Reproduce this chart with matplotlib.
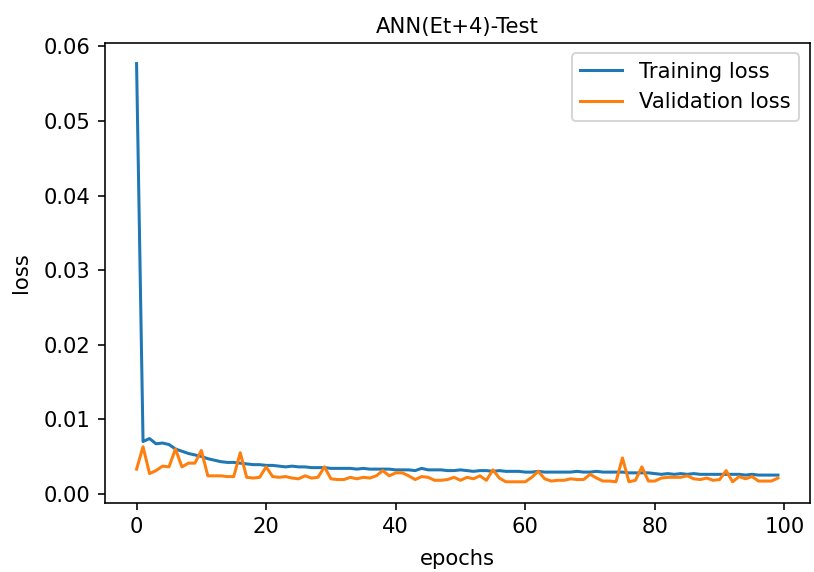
import matplotlib
matplotlib.use("Agg")
import matplotlib.pyplot as plt

epochs = list(range(100))

training_loss = [
    0.0577, 0.0070, 0.0074, 0.0067, 0.0068, 0.0066, 0.0060, 0.0057, 0.0054, 0.0052,
    0.0050, 0.0047, 0.0045, 0.0043, 0.0042, 0.0042, 0.0041, 0.0040, 0.0039, 0.0039,
    0.0038, 0.0038, 0.0037, 0.0036, 0.0037, 0.0036, 0.0036, 0.0035, 0.0035, 0.0035,
    0.0034, 0.0034, 0.0034, 0.0034, 0.0033, 0.0034, 0.0033, 0.0033, 0.0033, 0.0033,
    0.0032, 0.0032, 0.0032, 0.0031, 0.0034, 0.0032, 0.0032, 0.0032, 0.0031, 0.0031,
    0.0032, 0.0031, 0.0030, 0.0031, 0.0031, 0.0030, 0.0031, 0.0030, 0.0030, 0.0030,
    0.0029, 0.0029, 0.0030, 0.0029, 0.0029, 0.0029, 0.0029, 0.0029, 0.0030, 0.0029,
    0.0029, 0.0030, 0.0029, 0.0029, 0.0029, 0.0029, 0.0028, 0.0028, 0.0028, 0.0028,
    0.0027, 0.0026, 0.0027, 0.0026, 0.0027, 0.0026, 0.0027, 0.0026, 0.0026, 0.0026,
    0.0026, 0.0026, 0.0026, 0.0026, 0.0025, 0.0026, 0.0025, 0.0025, 0.0025, 0.0025,
]

validation_loss = [
    0.0033, 0.0063, 0.0027, 0.0031, 0.0037, 0.0036, 0.0060, 0.0036, 0.0041, 0.0041,
    0.0058, 0.0024, 0.0024, 0.0024, 0.0023, 0.0023, 0.0055, 0.0022, 0.0021, 0.0022,
    0.0036, 0.0023, 0.0022, 0.0023, 0.0021, 0.0020, 0.0024, 0.0021, 0.0022, 0.0036,
    0.0020, 0.0019, 0.0019, 0.0022, 0.0020, 0.0022, 0.0021, 0.0024, 0.0031, 0.0024,
    0.0028, 0.0028, 0.0024, 0.0019, 0.0023, 0.0022, 0.0018, 0.0018, 0.0019, 0.0022,
    0.0018, 0.0022, 0.0020, 0.0024, 0.0018, 0.0032, 0.0021, 0.0016, 0.0016, 0.0016,
    0.0016, 0.0022, 0.0030, 0.0020, 0.0017, 0.0018, 0.0018, 0.0020, 0.0019, 0.0019,
    0.0026, 0.0021, 0.0017, 0.0017, 0.0016, 0.0048, 0.0016, 0.0018, 0.0036, 0.0017,
    0.0017, 0.0021, 0.0022, 0.0022, 0.0022, 0.0024, 0.0020, 0.0019, 0.0021, 0.0018,
    0.0019, 0.0031, 0.0016, 0.0023, 0.0020, 0.0023, 0.0017, 0.0017, 0.0017, 0.0021,
]

title = "ANN(Et+4)-Test"
x_label = "epochs"
y_label = "loss"
series_names = ["Training loss", "Validation loss"]

plt.rcParams["font.size"] = 10.5

DPI = 145
fig = plt.figure(figsize=(814 / DPI, 572 / DPI), dpi=DPI)
fig.subplots_adjust(left=104.5 / 814, right=810 / 814,
                    bottom=1 - 502.7 / 572, top=1 - 42.7 / 572)
ax = fig.add_subplot(111)

ax.plot(epochs, training_loss, label=series_names[0])
ax.plot(epochs, validation_loss, label=series_names[1])

ax.set_title(title, fontsize=10.5, pad=5)
ax.set_xlabel(x_label, labelpad=6)
ax.set_ylabel(y_label, labelpad=6)
ax.legend()

fig.savefig("out.png", dpi=DPI)
